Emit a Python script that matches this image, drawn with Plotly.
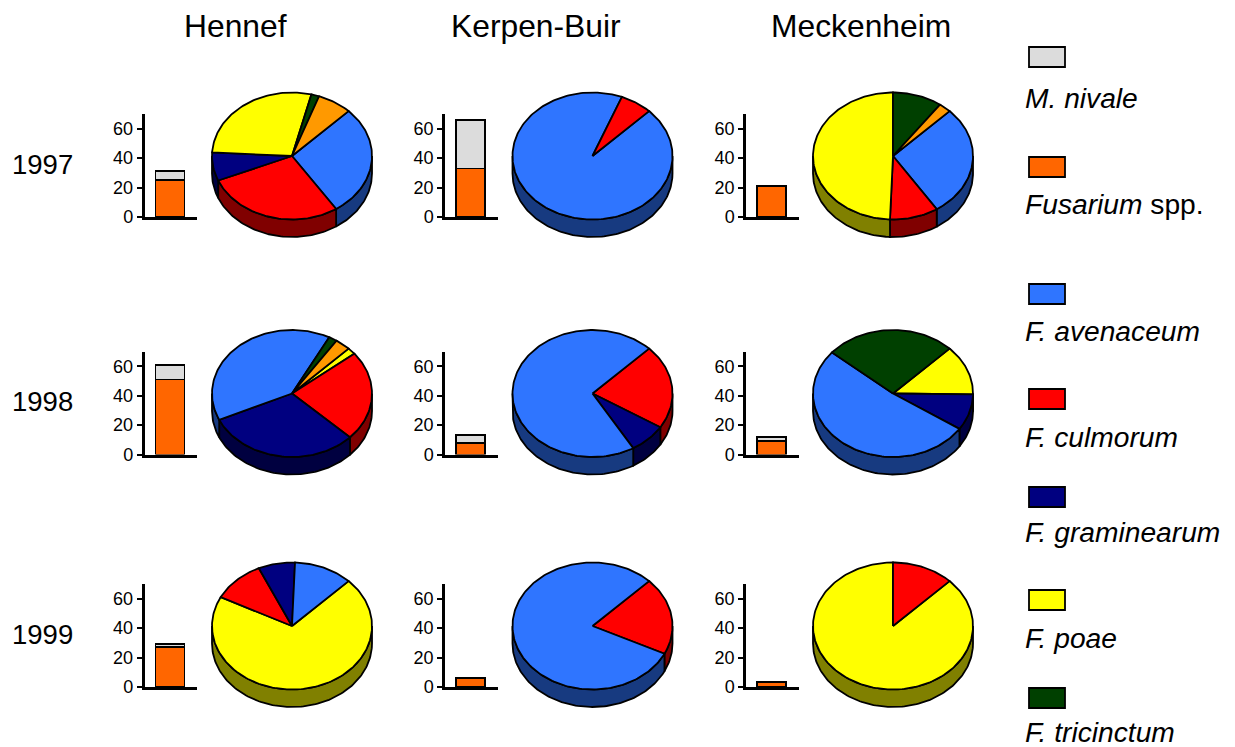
import math
import plotly.graph_objects as go

# Sites (columns) and years (rows)
SITES = ["Hennef", "Kerpen-Buir", "Meckenheim"]
YEARS = ["1997", "1998", "1999"]

# Infection level per year, one value per site (%)
FUSARIUM = [[25, 33, 21], [51, 8, 9], [27, 6, 3.5]]
NIVALE = [[6, 33, 0.4], [10, 5, 3], [2, 0, 0]]

# Species shares per pie, listed clockwise from the first slice angle
PIE_SPECIES = [
    [["ave", "cul", "gra", "poa", "tri", "oth"], ["ave", "cul"], ["ave", "cul", "poa", "tri", "oth"]],
    [["poa", "cul", "gra", "ave", "tri", "oth"], ["cul", "gra", "ave"], ["poa", "gra", "ave", "tri"]],
    [["poa", "cul", "gra", "ave"], ["cul", "ave"], ["poa", "cul"]],
]
PIE_SHARES = [
    [[28.2, 28.0, 7.2, 28.0, 1.6, 7.0], [93.5, 6.5], [28.3, 9.8, 49.4, 10.0, 2.5]],
    [[1.7, 22.9, 31.1, 39.5, 1.7, 3.1], [21.4, 7.6, 71.0], [12.7, 9.2, 51.8, 26.3]],
    [[70.0, 10.7, 7.4, 11.9], [19.7, 80.3], [87.5, 12.5]],
]

LEGEND_LABELS = ["<i>M. nivale</i>", "<i>Fusarium</i> spp.", "<i>F. avenaceum</i>", "<i>F. culmorum</i>",
                 "<i>F. graminearum</i>", "<i>F. poae</i>", "<i>F. tricinctum</i>"]
LEGEND_COLORS = ["#DCDCDC", "#FF6600", "#2F75FF", "#FF0000", "#000080", "#FFFF00", "#004000"]

# Slice colours: top face and shaded rim
TOP = {"ave": "#2F75FF", "cul": "#FF0000", "gra": "#000080", "poa": "#FFFF00", "tri": "#004000", "oth": "#FF9900"}
RIM = {"ave": "#173A80", "cul": "#800000", "gra": "#000040", "poa": "#808000", "tri": "#002000", "oth": "#804C00"}

# Page layout in pixels
W, H = 1235, 747
FONT = "Liberation Sans"
PIE_X = [292, 592.5, 893]
PIE_Y = [156, 393.5, 626]
RX, RY, DEPTH = 80, 63.5, 17.5
FIRST_ANGLE = 45
AXIS_X = [144.5, 445, 746]
AXIS_WIDTH = 52.5
AXIS_BOTTOM = [217, 454.5, 687]
AXIS_HEIGHT = 103
TITLE_X = [235.5, 536, 860.5]
LEGEND_SWATCH_Y = [47, 157, 284, 389, 487, 590, 688]
LEGEND_TEXT_Y = [98, 204, 331, 437, 532, 638, 731.5]
OUTLINE = 1.8


def ellipse_arc(cx, cy, a0, a1):
    steps = max(2, int(abs(a1 - a0) / 1.5) + 1)
    xs, ys = [], []
    for i in range(steps + 1):
        t = math.radians(a0 + (a1 - a0) * i / steps)
        xs.append(cx + RX * math.sin(t))
        ys.append(cy - RY * math.cos(t))
    return xs, ys


def add_pie(fig, cx, cy, species, shares):
    spans = []
    start = FIRST_ANGLE
    for sp, share in zip(species, shares):
        end = start + share * 3.6
        spans.append((sp, start, end))
        start = end

    # Rim pieces: only the front half of the disc shows its side
    for sp, a0, a1 in spans:
        for lo, hi in ((90, 270), (450, 630)):
            s0, s1 = max(a0, lo), min(a1, hi)
            if s1 <= s0:
                continue
            xs, ys = ellipse_arc(cx, cy, s0, s1)
            px = xs + xs[::-1] + xs[:1]
            py = ys + [y + DEPTH for y in ys[::-1]] + ys[:1]
            fig.add_trace(go.Scatter(x=px, y=py, mode="lines", fill="toself", fillcolor=RIM[sp],
                                     line=dict(color="black", width=OUTLINE), showlegend=False,
                                     hoverinfo="skip", xaxis="x", yaxis="y"))

    # Top face
    for sp, a0, a1 in spans:
        xs, ys = ellipse_arc(cx, cy, a0, a1)
        fig.add_trace(go.Scatter(x=[cx] + xs + [cx], y=[cy] + ys + [cy], mode="lines", fill="toself",
                                 fillcolor=TOP[sp], line=dict(color="black", width=OUTLINE), showlegend=False,
                                 hoverinfo="skip", xaxis="x", yaxis="y"))


fig = go.Figure()
layout = dict(
    width=W, height=H, autosize=False, margin=dict(l=0, r=0, t=0, b=0),
    paper_bgcolor="white", plot_bgcolor="rgba(0,0,0,0)", showlegend=False, barmode="stack",
    font=dict(family=FONT, color="black"),
    xaxis=dict(domain=[0, 1], range=[0, W], visible=False, fixedrange=True, automargin=False),
    yaxis=dict(domain=[0, 1], range=[H, 0], visible=False, fixedrange=True, automargin=False),
)

annotations = []
shapes = []

for r, year in enumerate(YEARS):
    annotations.append(dict(x=10, y=PIE_Y[r] + 8, text=year, xref="x", yref="y",
                            xanchor="left", yanchor="middle", showarrow=False, font=dict(size=27.5)))
    for c, site in enumerate(SITES):
        add_pie(fig, PIE_X[c], PIE_Y[r], PIE_SPECIES[r][c], PIE_SHARES[r][c])

        n = r * 3 + c + 2
        fig.add_trace(go.Bar(x=[0.5], y=[FUSARIUM[r][c]], width=0.55,
                             marker=dict(color="#FF6600", line=dict(color="black", width=OUTLINE)),
                             xaxis=f"x{n}", yaxis=f"y{n}", showlegend=False, hoverinfo="y"))
        fig.add_trace(go.Bar(x=[0.5], y=[NIVALE[r][c]], width=0.55,
                             marker=dict(color="#DCDCDC", line=dict(color="black", width=OUTLINE)),
                             xaxis=f"x{n}", yaxis=f"y{n}", showlegend=False, hoverinfo="y"))
        layout[f"xaxis{n}"] = dict(
            domain=[AXIS_X[c] / W, (AXIS_X[c] + AXIS_WIDTH) / W], range=[0.015, 1.015], anchor=f"y{n}",
            showline=True, linecolor="black", linewidth=2.5, showticklabels=False, ticks="",
            showgrid=False, zeroline=False, fixedrange=True, automargin=False)
        layout[f"yaxis{n}"] = dict(
            domain=[(H - AXIS_BOTTOM[r]) / H, (H - AXIS_BOTTOM[r] + AXIS_HEIGHT) / H], range=[0, 70], anchor=f"x{n}",
            showline=True, linecolor="black", linewidth=2.5, ticks="outside", ticklen=5, tickwidth=2, tickcolor="black",
            tickvals=[0, 20, 40, 60], tickfont=dict(size=18, family=FONT), showgrid=False, zeroline=False,
            fixedrange=True, automargin=False)

for c, site in enumerate(SITES):
    annotations.append(dict(x=TITLE_X[c], y=26, text=site, xref="x", yref="y", xanchor="center",
                            yanchor="middle", showarrow=False, font=dict(size=31.8)))

for label, color, sy, ty in zip(LEGEND_LABELS, LEGEND_COLORS, LEGEND_SWATCH_Y, LEGEND_TEXT_Y):
    shapes.append(dict(type="rect", xref="x", yref="y", x0=1029, x1=1065, y0=sy, y1=sy + 20, fillcolor=color,
                       line=dict(color="black", width=1.8), layer="above"))
    annotations.append(dict(x=1023, y=ty, text=label, xref="x", yref="y", xanchor="left", yanchor="middle",
                            showarrow=False, font=dict(size=28.2)))

layout["annotations"] = annotations
layout["shapes"] = shapes
fig.update_layout(**layout)
fig.write_html("out.html")
